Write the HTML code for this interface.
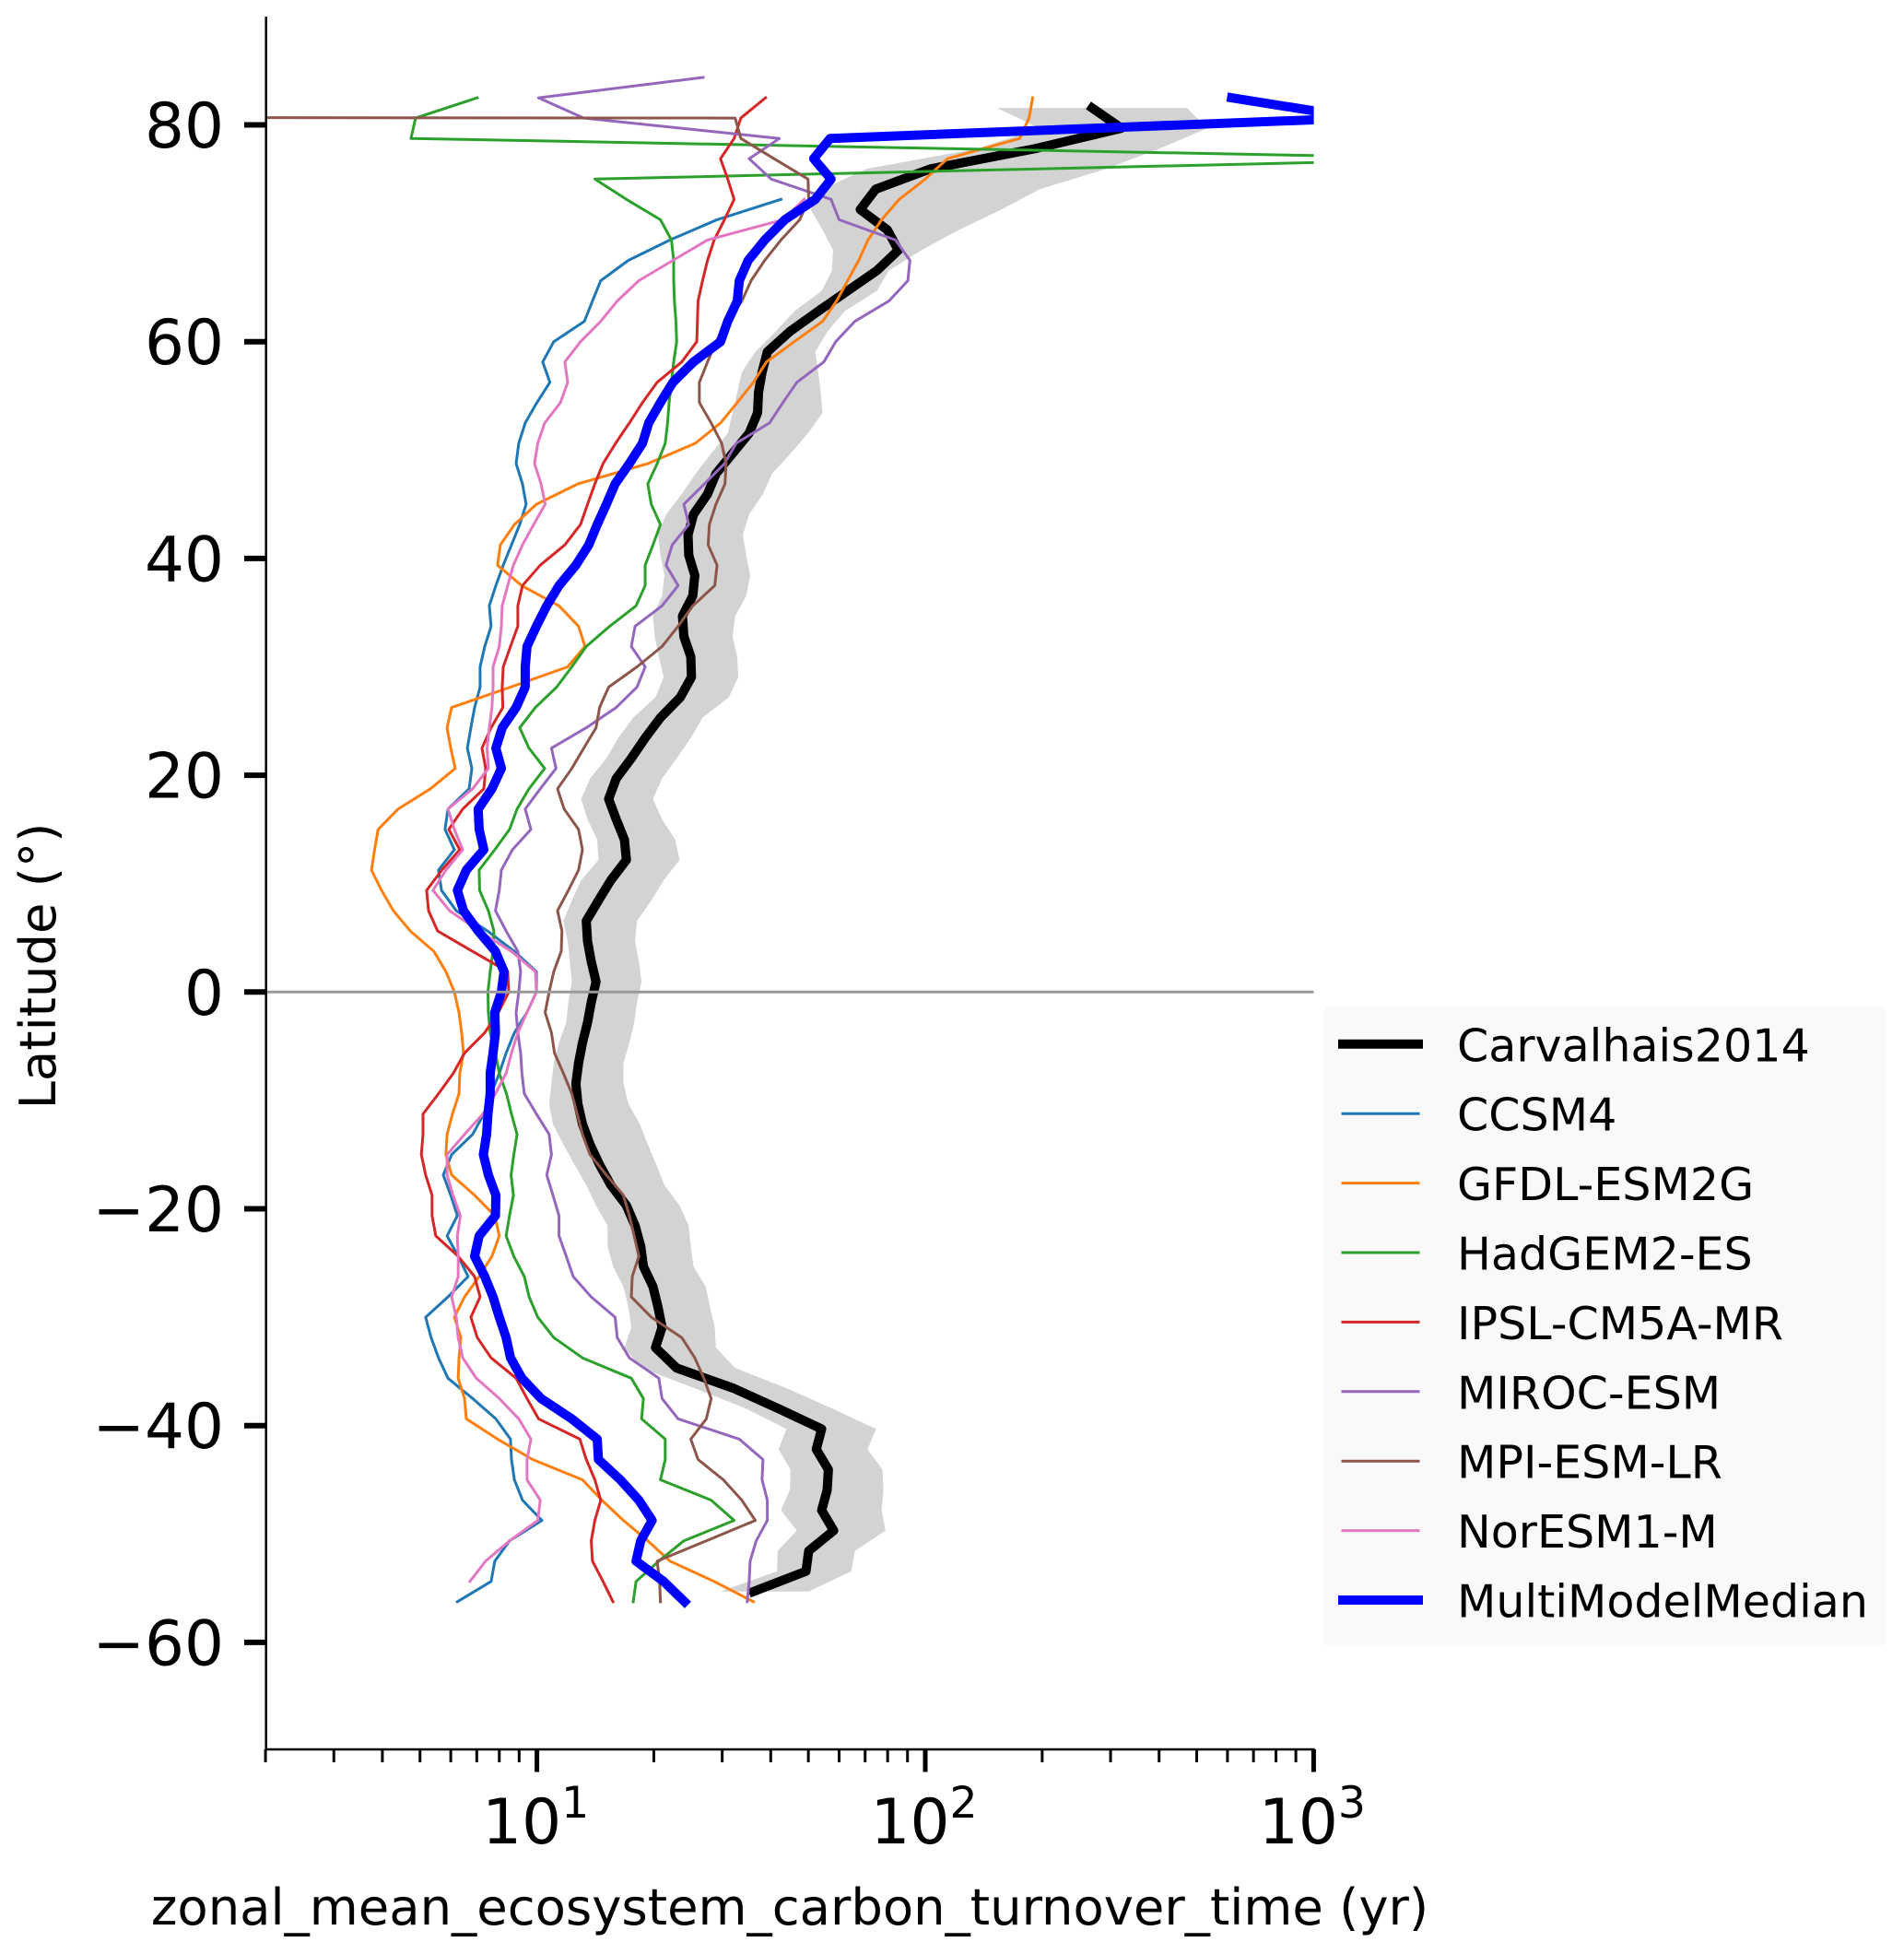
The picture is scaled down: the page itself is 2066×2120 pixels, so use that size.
<!DOCTYPE html>
<html>
<head>
<meta charset="utf-8">
<title>Zonal mean ecosystem carbon turnover time</title>
<style>
html,body{margin:0;padding:0;background:#fff;}
svg{display:block;font-family:"DejaVu Sans","Liberation Sans",sans-serif;}
</style>
</head>
<body>
<svg id="chart" xmlns="http://www.w3.org/2000/svg" width="2066" height="2120" viewBox="0 0 2066 2120">
<defs><clipPath id="plot-clip"><rect x="288" y="18" width="1137.6" height="1880"/></clipPath></defs>
<rect x="0" y="0" width="2066" height="2120" fill="#ffffff"/>
<g id="band-layer" clip-path="url(#plot-clip)"></g>
<g id="line-layer" clip-path="url(#plot-clip)"></g>
<line id="zero-line" stroke="#999999" stroke-width="3"/>
<g id="axes-layer"></g>
<text transform="translate(60,1048) rotate(-90)" text-anchor="middle" font-size="54.4" fill="#000">Latitude (°)</text>
<text x="857" y="2088" text-anchor="middle" font-size="54.4" fill="#000">zonal_mean_ecosystem_carbon_turnover_time (yr)</text>
<g>
<rect x="1436" y="1091.5" width="610.5" height="695" rx="8" ry="8" fill="#f9f9f9"/>
<g id="legend-entries"></g>
</g>
</svg>
<script>
const modelLats = [-56.25,-54.38,-52.5,-50.63,-48.75,-46.88,-45,-43.13,-41.25,-39.38,-37.5,-35.63,-33.75,-31.88,-30,-28.13,-26.25,-24.38,-22.5,-20.63,-18.75,-16.88,-15,-13.13,-11.25,-9.38,-7.5,-5.63,-3.75,-1.88,0,1.88,3.75,5.63,7.5,9.38,11.25,13.13,15,16.88,18.75,20.63,22.5,24.38,26.25,28.13,30,31.88,33.75,35.63,37.5,39.38,41.25,43.13,45,46.88,48.75,50.63,52.5,54.38,56.25,58.13,60,61.88,63.75,65.63,67.5,69.38,71.25,73.13,75,76.88,78.75,80.63,82.5,84.38];
const obsLats = [-55.31,-53.44,-51.56,-49.69,-47.81,-45.94,-44.06,-42.19,-40.31,-38.44,-36.56,-34.69,-32.81,-30.94,-29.06,-27.19,-25.31,-23.44,-21.56,-19.69,-17.81,-15.94,-14.06,-12.19,-10.31,-8.44,-6.56,-4.69,-2.81,-0.94,0.94,2.81,4.69,6.56,8.44,10.31,12.19,14.06,15.94,17.81,19.69,21.56,23.44,25.31,27.19,29.06,30.94,32.81,34.69,36.56,38.44,40.31,42.19,44.06,45.94,47.81,49.69,51.56,53.44,55.31,57.19,59.06,60.94,62.81,64.69,66.56,68.44,70.31,72.19,74.06,75.94,77.81,79.69,81.56];

const carvalhais = [36.1,49.3,50.1,58.1,54.1,55.9,56.3,52.4,54.1,41.9,32.1,22.9,20.2,21.0,20.5,19.9,18.8,18.5,17.9,17.0,15.5,14.5,13.7,13.1,12.75,12.6,12.8,13.1,13.5,13.8,14.2,13.8,13.5,13.4,14.4,15.5,17.0,16.8,16.0,15.3,16.0,17.5,19.0,20.8,23.4,25.0,24.9,23.9,23.7,25.2,25.5,24.6,24.5,25.3,27.5,28.9,31.9,35.2,37.0,37.2,38.0,39.2,44.8,53.0,63.1,75.1,85.2,79.9,68.0,74.5,103,192,320,269];
const carvalhaisLow = [29.7,41.5,41.7,46.7,42.5,44.8,45.0,41.9,43.9,34.6,25.5,18.6,16.8,17.5,17.2,16.7,15.7,15.2,15.2,14.2,13.4,12.5,11.7,11.0,10.75,10.9,11.05,11.4,11.9,12.05,12.3,12.15,12.0,11.7,12.3,13.0,14.4,14.3,13.5,13.0,13.7,15.1,16.2,17.7,20.2,21.2,20.6,20.1,19.9,21.0,21.3,20.8,20.5,21.5,23.6,25.6,28.1,31.0,31.9,32.8,33.7,36.5,41.2,46.0,54.1,57.5,57.9,54.4,50.7,54.4,70.4,136,197,153];
const carvalhaisHigh = [50.1,64.5,65.9,79,77.2,78,77.6,71,74.7,57.7,44,32.4,28.9,28.7,27.9,27.2,25.3,24.9,24.6,23.3,21.3,20.3,19.3,18.4,17.2,16.7,16.7,17.3,17.8,18.1,18.6,18.3,17.9,18.1,19.7,21.2,23.3,22.7,21.0,19.9,21.0,22.9,24.9,26.7,31.2,33.0,32.8,31.9,32.4,34.6,35.4,34.6,33.9,35.2,38.2,40.3,45.0,49.9,54.4,53.8,53.0,52.1,56.0,62.0,75.1,80.6,97.7,122,157,197,292,401,532,472];

const ccsm4 = [6.24,7.62,7.79,8.5,10.3,9.18,8.75,8.6,8.55,7.84,6.83,5.9,5.58,5.34,5.17,5.9,6.65,6.27,5.87,6.24,6.0,5.74,6.03,6.83,7.3,7.62,8.0,8.33,8.75,9.43,9.97,9.97,8.75,7.46,6.2,5.68,5.58,6.13,5.8,5.9,6.69,6.8,6.62,6.76,6.91,7.14,7.14,7.34,7.62,7.54,7.84,8.19,8.6,9.03,9.38,9.18,8.84,8.98,9.33,10.0,10.8,10.35,11.05,13.25,13.9,14.6,17.2,22.0,29.1,42.5];
const gfdl = [36.1,28.6,22.0,19.3,16.7,14.7,13.1,9.75,7.92,6.58,6.51,6.27,6.3,6.37,6.13,6.51,7.1,7.66,8.0,7.79,6.91,6.03,5.83,5.87,6.06,6.3,6.33,6.47,6.4,6.3,6.13,5.83,5.43,4.72,4.27,3.98,3.75,3.82,3.9,4.39,5.32,6.16,6.0,5.87,6.03,8.55,12.0,13.3,12.8,11.4,9.13,7.92,8.05,8.75,9.97,12.75,19.3,25.6,29.7,32.8,36.1,39.0,46.0,54.4,59.1,63.1,67.4,71.2,77.2,85.7,100,114,175,185,189];
const hadgem = [17.7,18.0,20.6,23.9,32.2,28.1,20.8,21.4,21.4,18.6,18.8,17.5,13.1,11.05,10.05,9.55,9.28,8.72,8.33,8.5,8.7,8.58,8.72,8.89,8.6,8.35,8.0,7.82,7.58,7.5,7.48,7.58,7.71,7.75,7.5,7.12,7.1,7.79,8.5,8.89,9.54,10.47,9.54,9.03,9.91,11.24,12.3,13.4,15.4,18.0,19.0,19.0,19.9,20.8,19.7,19.3,20.4,21.4,21.7,21.9,22.2,22.5,22.9,22.8,22.6,22.5,22.5,22.2,20.8,17.0,14.1,2700,4.74,4.87,7.02];
const ipsl = [15.7,14.8,13.9,13.8,14.1,14.6,14.1,13.4,12.9,10.1,9.43,8.84,7.62,7.02,6.76,7.14,6.91,6.27,5.49,5.37,5.37,5.17,5.04,5.09,5.09,5.58,6.09,6.51,7.34,7.96,8.46,8.41,6.83,5.55,5.26,5.2,5.69,6.33,5.93,6.44,7.3,7.38,7.22,7.62,8.17,8.14,8.19,8.55,8.93,8.93,9.18,10.2,11.8,12.95,13.5,14.1,14.8,15.95,17.3,18.7,20.4,23.6,25.8,25.9,26.0,26.7,27.5,28.6,30.4,32.2,31.0,29.7,32.2,33.5,38.8];
const miroc = [34.8,35.2,35.4,36.7,39.2,39.2,38.0,38.2,33.2,23.1,21.0,20.6,17.3,16.1,15.9,13.8,12.4,11.9,11.4,11.4,11.0,10.6,10.9,10.75,9.97,9.28,9.15,9.08,8.93,8.84,8.98,9.08,8.93,8.33,7.82,8.0,8.1,8.65,9.65,9.33,10.2,11.2,10.9,13.4,16.0,18.1,19.0,17.5,17.9,21.0,23.1,21.5,22.3,24.6,23.9,27.0,30.4,32.6,39.7,43.0,46.7,54.8,58.8,65.9,80.6,90.2,91.3,83.8,60.0,57.2,40.1,35.2,42.1,13.2,10.1,26.8];
const mpi = [20.8,20.7,20.4,27.3,36.5,33.7,30.2,26.0,24.9,27.3,28.1,26.9,25.5,23.6,19.7,17.5,17.6,18.3,17.8,17.3,16.7,15.1,13.7,13.1,12.7,12.3,11.7,11.1,10.9,10.5,10.75,11.05,11.55,11.6,11.3,12.05,12.8,13.1,12.8,11.75,11.3,12.3,13.2,14.2,14.5,15.3,18.1,21.0,23.1,25.2,28.7,29.1,27.6,27.8,28.9,30.5,30.7,29.9,28.1,26.2,26.2,27.5,28.9,31.0,33.7,35.6,38.6,42.5,47.5,50.1,49.9,40.8,33.5,32.4,1e-60];
const noresm = [null,6.72,7.38,8.5,10.05,10.2,9.43,9.43,9.65,8.98,8.0,6.98,6.44,6.27,6.2,6.03,6.27,6.27,6.24,6.35,6.08,5.87,5.87,6.51,7.26,7.82,8.33,8.6,8.93,9.43,9.97,9.91,8.6,7.1,5.96,5.4,5.83,6.44,6.13,5.9,6.83,7.5,7.44,7.54,7.66,7.71,7.71,8.0,8.1,8.14,8.41,8.7,9.18,9.81,10.5,10.25,9.86,10.05,10.47,11.5,12.0,11.8,12.95,14.6,16.1,18.3,22.4,27.5,43.0,48.8];
const multiModelMedian = [24.0,21.2,18.0,18.5,19.8,18.3,16.4,14.4,14.3,12.3,10.25,9.15,8.55,8.33,8.0,7.71,7.34,6.91,7.1,7.82,7.84,7.5,7.28,7.42,7.48,7.58,7.58,7.71,7.82,7.79,8.1,8.23,7.82,7.06,6.47,6.24,6.58,7.3,7.1,7.06,7.66,8.1,7.84,8.14,8.84,9.33,9.33,9.43,9.97,10.6,11.4,12.6,13.6,14.3,15.1,15.9,17.3,18.7,19.4,20.8,22.4,25.3,29.7,31.0,32.8,33.2,35.0,38.6,43.5,52.1,57.2,51.6,56.9,1310,615];

const yTickValues = [-60,-40,-20,0,20,40,60,80];
const yTickLabels = ['\u221260','\u221240','\u221220','0','20','40','60','80'];
const xMajorValues = [10,100,1000];
const xMajorExponents = ['1','2','3'];
const xMinorValues = [2,3,4,5,6,7,8,9,20,30,40,50,60,70,80,90,200,300,400,500,600,700,800,900];
const legendLabels = ['Carvalhais2014','CCSM4','GFDL-ESM2G','HadGEM2-ES','IPSL-CM5A-MR','MIROC-ESM','MPI-ESM-LR','NorESM1-M','MultiModelMedian'];

const NS = 'http://www.w3.org/2000/svg';
function xScale(v){ return 582.6 + 421.4 * (Math.log10(v) - 1); }
function yScale(lat){ return 1076.3 - lat * 11.76; }
function pathFrom(vals, lats){
  let d = '', pen = false;
  vals.forEach(function(v, i){
    if (v === null) { pen = false; return; }
    d += (pen ? 'L' : 'M') + xScale(v).toFixed(2) + ' ' + yScale(lats[i]).toFixed(2);
    pen = true;
  });
  return d;
}
function svgEl(tag){ return document.createElementNS(NS, tag); }

const bandLayer = document.getElementById('band-layer');
const lineLayer = document.getElementById('line-layer');
const axesLayer = document.getElementById('axes-layer');
const legendLayer = document.getElementById('legend-entries');

/* observational uncertainty band */
let bandD = '';
carvalhaisLow.forEach(function(v, i){
  bandD += (i ? 'L' : 'M') + xScale(v).toFixed(2) + ' ' + yScale(obsLats[i]).toFixed(2);
});
for (let i = carvalhaisHigh.length - 1; i >= 0; i--) {
  bandD += 'L' + xScale(carvalhaisHigh[i]).toFixed(2) + ' ' + yScale(obsLats[i]).toFixed(2);
}
bandD += 'Z';
const band = svgEl('path');


band.setAttribute('d', bandD);
band.setAttribute('fill', '#d3d3d3');
bandLayer.appendChild(band);

/* series */
function addLine(name, vals, lats, color, width){
  const p = svgEl('path');
  
  
  p.setAttribute('d', pathFrom(vals, lats));
  p.setAttribute('fill', 'none');
  p.setAttribute('stroke', color);
  p.setAttribute('stroke-width', width);
  p.setAttribute('stroke-linejoin', 'round');
  p.setAttribute('stroke-linecap', 'square');
  lineLayer.appendChild(p);
}
addLine('series-carvalhais2014', carvalhais, obsLats, '#000000', 10);
addLine('series-ccsm4', ccsm4, modelLats, '#1f77b4', 3);
addLine('series-gfdl-esm2g', gfdl, modelLats, '#ff7f0e', 3);
addLine('series-hadgem2-es', hadgem, modelLats, '#2ca02c', 3);
addLine('series-ipsl-cm5a-mr', ipsl, modelLats, '#d62728', 3);
addLine('series-miroc-esm', miroc, modelLats, '#9467bd', 3);
addLine('series-mpi-esm-lr', mpi, modelLats, '#8c564b', 3);
addLine('series-noresm1-m', noresm, modelLats, '#e377c2', 3);
addLine('series-multimodelmedian', multiModelMedian, modelLats, '#0000ff', 10);

/* zero line */
const zero = document.getElementById('zero-line');
zero.setAttribute('x1', 288);
zero.setAttribute('x2', 1425.6);
zero.setAttribute('y1', yScale(0));
zero.setAttribute('y2', yScale(0));

/* spines */
const leftSpine = svgEl('line');


leftSpine.setAttribute('x1', 288.7);
leftSpine.setAttribute('x2', 288.7);
leftSpine.setAttribute('y1', 18);
leftSpine.setAttribute('y2', 1899);
leftSpine.setAttribute('stroke', '#000');
leftSpine.setAttribute('stroke-width', 2.5);
axesLayer.appendChild(leftSpine);
const bottomSpine = svgEl('line');


bottomSpine.setAttribute('x1', 287.5);
bottomSpine.setAttribute('x2', 1426.8);
bottomSpine.setAttribute('y1', 1898);
bottomSpine.setAttribute('y2', 1898);
bottomSpine.setAttribute('stroke', '#000');
bottomSpine.setAttribute('stroke-width', 2.5);
axesLayer.appendChild(bottomSpine);

/* y ticks */
yTickValues.forEach(function(v, i){
  const y = yScale(v);
  const t = svgEl('line');
  
  
  t.setAttribute('x1', 265);
  t.setAttribute('x2', 288);
  t.setAttribute('y1', y);
  t.setAttribute('y2', y);
  t.setAttribute('stroke', '#000');
  t.setAttribute('stroke-width', 6);
  axesLayer.appendChild(t);
  const l = svgEl('text');
  
  
  l.setAttribute('x', 243);
  l.setAttribute('y', y + 24.5);
  l.setAttribute('text-anchor', 'end');
  l.setAttribute('font-size', 67.6);
  l.textContent = yTickLabels[i];
  axesLayer.appendChild(l);
});

/* x ticks */
xMajorValues.forEach(function(v, i){
  const x = xScale(v);
  const t = svgEl('line');
  
  
  t.setAttribute('x1', x);
  t.setAttribute('x2', x);
  t.setAttribute('y1', 1898);
  t.setAttribute('y2', 1922.5);
  t.setAttribute('stroke', '#000');
  t.setAttribute('stroke-width', 5);
  axesLayer.appendChild(t);
  const l = svgEl('text');
  
  
  l.setAttribute('x', x - 59.5);
  l.setAttribute('y', 2000);
  l.setAttribute('font-size', 67.6);
  l.textContent = '10';
  const s = svgEl('tspan');
  s.setAttribute('dy', -28);
  s.setAttribute('font-size', 47.3);
  s.textContent = xMajorExponents[i];
  l.appendChild(s);
  axesLayer.appendChild(l);
});
xMinorValues.forEach(function(v){
  const x = xScale(v);
  const t = svgEl('line');
  
  
  t.setAttribute('x1', x);
  t.setAttribute('x2', x);
  t.setAttribute('y1', 1898);
  t.setAttribute('y2', 1912);
  t.setAttribute('stroke', '#000');
  t.setAttribute('stroke-width', 3);
  axesLayer.appendChild(t);
});

/* legend */
const legendColors = ['#000000','#1f77b4','#ff7f0e','#2ca02c','#d62728','#9467bd','#8c564b','#e377c2','#0000ff'];
legendLabels.forEach(function(label, i){
  const y = 1132.8 + i * 75.4;
  const thick = (i === 0 || i === legendLabels.length - 1);
  const k = svgEl('line');
  
  
  k.setAttribute('x1', thick ? 1452 : 1455.5);
  k.setAttribute('x2', thick ? 1544 : 1540.5);
  k.setAttribute('y1', y);
  k.setAttribute('y2', y);
  k.setAttribute('stroke', legendColors[i]);
  k.setAttribute('stroke-width', thick ? 10 : 3);
  legendLayer.appendChild(k);
  const l = svgEl('text');
  
  
  l.setAttribute('x', 1581);
  l.setAttribute('y', y + 18.5);
  l.setAttribute('font-size', 49.1);
  l.textContent = label;
  legendLayer.appendChild(l);
});
</script>
</body>
</html>
